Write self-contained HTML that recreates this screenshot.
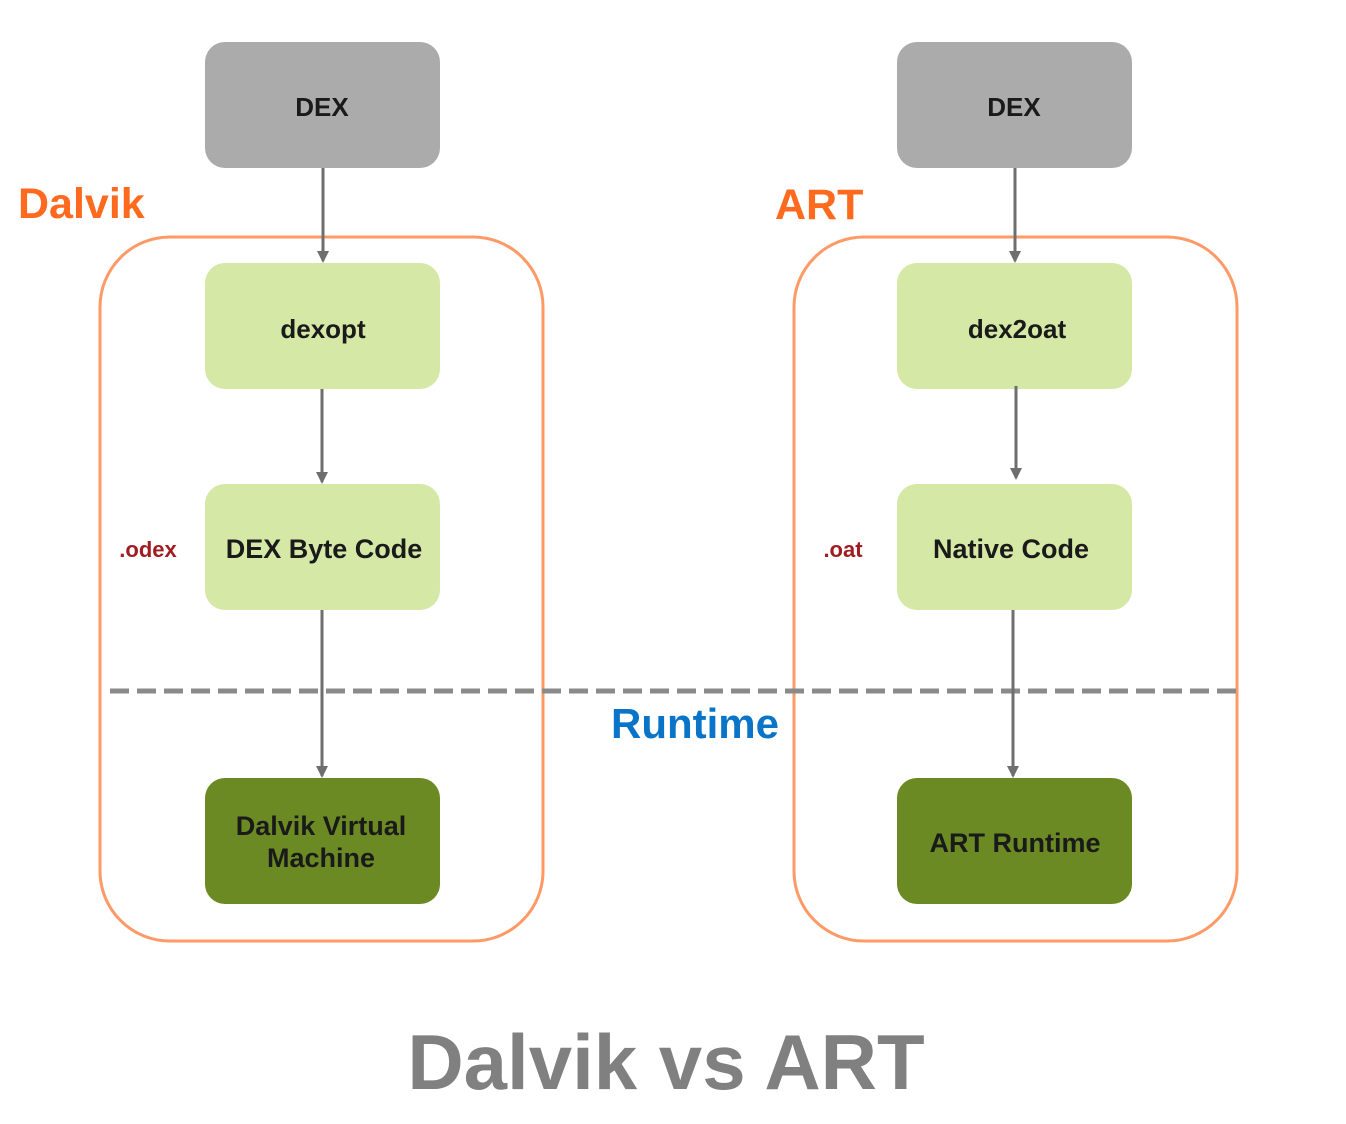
<!DOCTYPE html>
<html><head><meta charset="utf-8"><style>
html,body{margin:0;padding:0;background:#fff;}
svg{display:block;}
text{font-family:"Liberation Sans",sans-serif;font-weight:bold;}
</style></head><body>
<svg width="1346" height="1124" viewBox="0 0 1346 1124" xmlns="http://www.w3.org/2000/svg">
<defs><marker id="a" markerWidth="12" markerHeight="12" refX="10" refY="6" orient="auto" markerUnits="userSpaceOnUse" viewBox="0 0 12 12"><path d="M0,0 L12,6 L0,12 z" fill="#6e6e6e"/></marker></defs>
<rect x="100" y="237" width="443" height="704" rx="70" fill="none" stroke="#ff9a66" stroke-width="3"/>
<rect x="794" y="237" width="443" height="704" rx="70" fill="none" stroke="#ff9a66" stroke-width="3"/>
<line x1="110" y1="691" x2="1238" y2="691" stroke="#8a8a8a" stroke-width="5" stroke-dasharray="19,8"/>
<g fill="#ababab"><rect x="205" y="42" width="235" height="126" rx="20"/><rect x="897" y="42" width="235" height="126" rx="20"/></g>
<g fill="#d5e8a6"><rect x="205" y="263" width="235" height="126" rx="20"/><rect x="897" y="263" width="235" height="126" rx="20"/><rect x="205" y="484" width="235" height="126" rx="20"/><rect x="897" y="484" width="235" height="126" rx="20"/></g>
<g fill="#6b8a23"><rect x="205" y="778" width="235" height="126" rx="20"/><rect x="897" y="778" width="235" height="126" rx="20"/></g>
<g stroke="#6e6e6e" stroke-width="3" marker-end="url(#a)">
<line x1="323" y1="168" x2="323" y2="261"/><line x1="322" y1="389" x2="322" y2="482"/><line x1="322" y1="610" x2="322" y2="776"/>
<line x1="1015" y1="168" x2="1015" y2="261"/><line x1="1016" y1="386" x2="1016" y2="478"/><line x1="1013" y1="610" x2="1013" y2="776"/>
</g>
<g font-size="26" fill="#1a1a1a" text-anchor="middle">
<text x="322" y="116">DEX</text><text x="1014" y="116">DEX</text>
<text x="323" y="338">dexopt</text><text x="1017" y="338">dex2oat</text>
<text x="324" y="558" font-size="27">DEX Byte Code</text><text x="1011" y="558" font-size="27">Native Code</text>
<text x="321" y="835" font-size="27">Dalvik Virtual</text><text x="321" y="867" font-size="27">Machine</text>
<text x="1015" y="852" font-size="27">ART Runtime</text>
</g>
<text x="148" y="557" font-size="22" fill="#a01c22" text-anchor="middle">.odex</text>
<text x="843" y="557" font-size="22" fill="#a01c22" text-anchor="middle">.oat</text>
<text x="18" y="218" font-size="43" fill="#ff6a1e">Dalvik</text>
<text x="775" y="219" font-size="43" fill="#ff6a1e">ART</text>
<text x="695" y="738" font-size="42" fill="#0a74c8" text-anchor="middle">Runtime</text>
<text x="666" y="1089" font-size="78" fill="#808080" text-anchor="middle">Dalvik vs ART</text>
</svg>
</body></html>
